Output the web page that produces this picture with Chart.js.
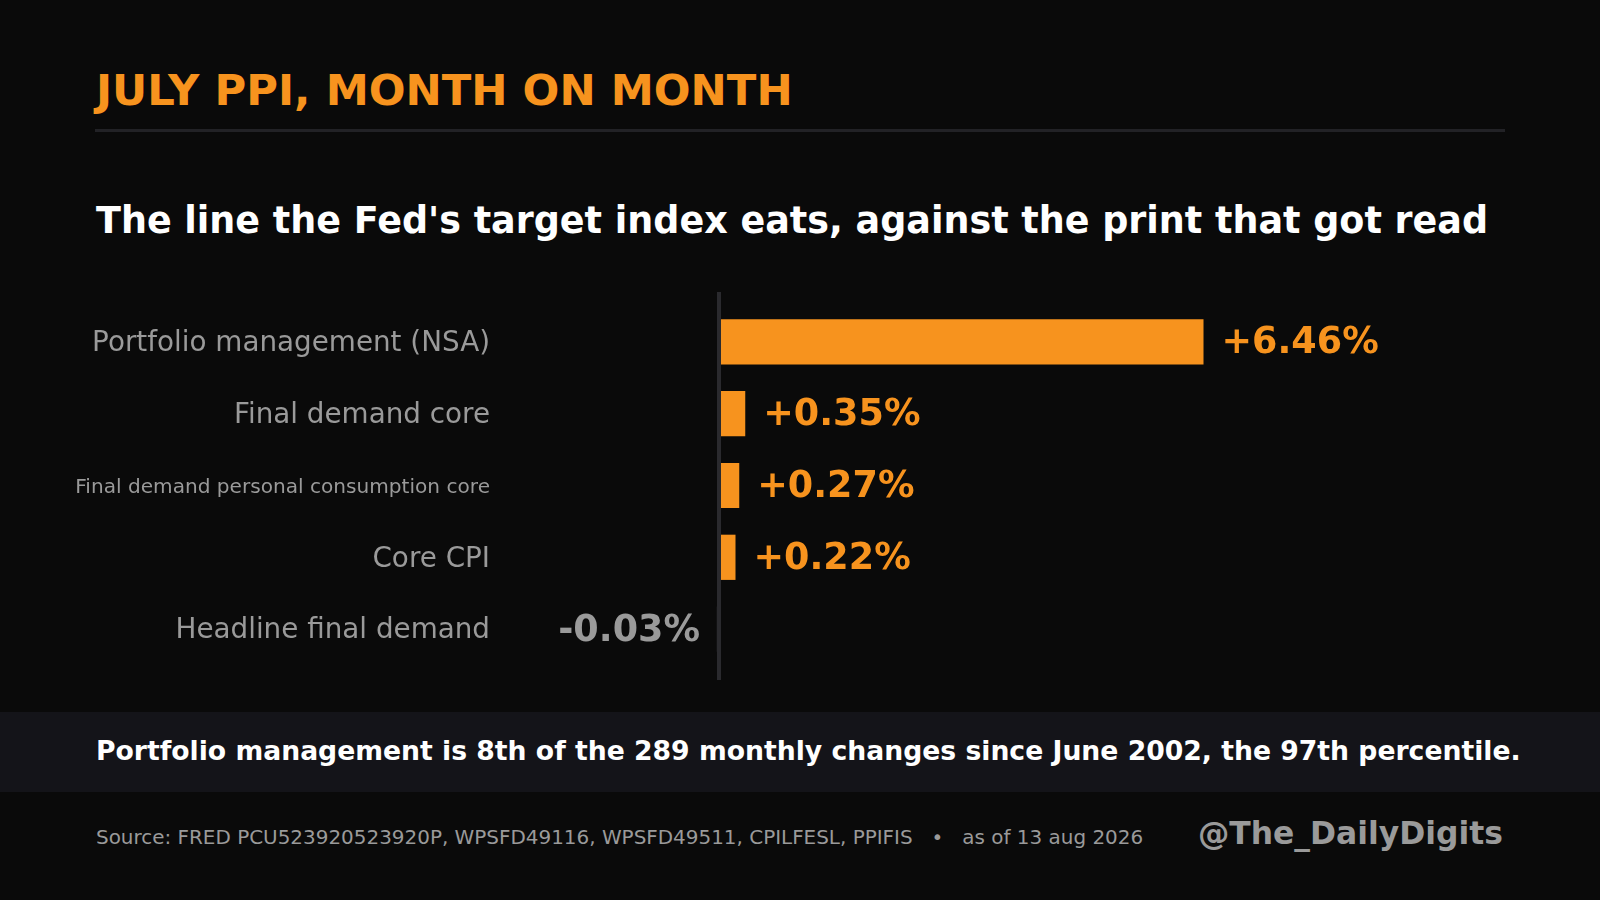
<!DOCTYPE html>
<html>
<head>
<meta charset="utf-8">
<script src="https://cdn.jsdelivr.net/npm/chart.js@4"></script>
<style>
  html, body { margin: 0; padding: 0; }
  body {
    width: 1600px; height: 900px; overflow: hidden; position: relative;
    background: #0a0a0a; font-family: "DejaVu Sans", sans-serif;
  }
  .abs { position: absolute; line-height: 1; white-space: pre; }
  #title { left: 96px; top: 69px; font-size: 43.3px; font-weight: bold; color: #f7931e; }
  #rule { position: absolute; left: 95px; top: 129px; width: 1410px; height: 3px; background: #222226; }
  #subtitle { left: 96px; top: 203px; font-size: 36.5px; font-weight: bold; color: #ffffff; }
  #chart-wrap { position: absolute; left: 0; top: 282px; width: 1600px; height: 420px; }
  #band { position: absolute; left: 0; top: 712px; width: 1600px; height: 80px; background: #141419; }
  #note { left: 96px; top: 738px; font-size: 26.65px; font-weight: bold; color: #ffffff; }
  #source { left: 96px; top: 828px; font-size: 19.95px; color: #9a9a9a; }
  #handle { right: 97px; top: 818px; font-size: 31.4px; font-weight: bold; color: #9a9a9a; }
</style>
</head>
<body>
<div id="title" class="abs">JULY PPI, MONTH ON MONTH</div>
<div id="rule"></div>
<div id="subtitle" class="abs">The line the Fed's target index eats, against the print that got read</div>
<div id="chart-wrap"><canvas id="chart" width="1600" height="420"></canvas></div>
<div id="band"></div>
<div id="note" class="abs">Portfolio management is 8th of the 289 monthly changes since June 2002, the 97th percentile.</div>
<div id="source" class="abs">Source: FRED PCU523920523920P, WPSFD49116, WPSFD49511, CPILFESL, PPIFIS   •   as of 13 aug 2026</div>
<div id="handle" class="abs">@The_DailyDigits</div>

<script>
const categories = [
  "Portfolio management (NSA)",
  "Final demand core",
  "Final demand personal consumption core",
  "Core CPI",
  "Headline final demand",
];
const values = [6.46, 0.35, 0.27, 0.22, -0.03];

const ORANGE = "#f7931e";
const GREY = "#9a9a9a";
const LINE = "#2a2a2e";

function fmt(v) {
  return (v >= 0 ? "+" : "") + v.toFixed(2) + "%";
}

// zero line, drawn a bit past the category band
const zeroLine = {
  id: "zeroLine",
  afterDatasetsDraw(chart) {
    const { ctx, chartArea, scales } = chart;
    const x = scales.x.getPixelForValue(0);
    ctx.save();
    ctx.fillStyle = LINE;
    ctx.fillRect(x - 2, chartArea.top - 14, 4, chartArea.bottom - chartArea.top + 29);
    ctx.restore();
  },
};

// value labels at the bar ends
const valueLabels = {
  id: "valueLabels",
  afterDraw(chart) {
    const { ctx } = chart;
    const meta = chart.getDatasetMeta(0);
    const zeroX = chart.scales.x.getPixelForValue(0);
    ctx.save();
    ctx.font = "bold 36.5px 'DejaVu Sans'";
    ctx.textBaseline = "middle";
    meta.data.forEach((bar, i) => {
      const v = values[i];
      if (v >= 0) {
        ctx.fillStyle = ORANGE;
        ctx.textAlign = "left";
        ctx.fillText(fmt(v), bar.x + 18, bar.y + 2);
      } else {
        ctx.fillStyle = GREY;
        ctx.textAlign = "right";
        ctx.fillText(fmt(v), zeroX - 19, bar.y + 2);
      }
    });
    ctx.restore();
  },
};

new Chart(document.getElementById("chart"), {
  type: "bar",
  data: {
    labels: categories,
    datasets: [{
      data: values,
      backgroundColor: values.map((v) => (v >= 0 ? ORANGE : LINE)),
      borderWidth: 0,
      barPercentage: 0.63,
      categoryPercentage: 1,
    }],
  },
  options: {
    indexAxis: "y",
    responsive: false,
    animation: false,
    devicePixelRatio: 1,
    layout: { padding: { top: 24, bottom: 37, left: 0, right: 131 } },
    plugins: { legend: { display: false }, tooltip: { enabled: false } },
    scales: {
      x: {
        display: false,
        min: -3,
        max: 10,
      },
      y: {
        grid: { display: false, drawTicks: false },
        border: { display: false },
        afterFit(scale) { scale.width = 494; },
        ticks: {
          padding: 4,
          labelOffset: 2,
          color: GREY,
          font: (c) => ({
            family: "DejaVu Sans",
            size: c.index === 2 ? 20.1 : 27.8,
          }),
        },
      },
    },
  },
  plugins: [zeroLine, valueLabels],
});
</script>
</body>
</html>
